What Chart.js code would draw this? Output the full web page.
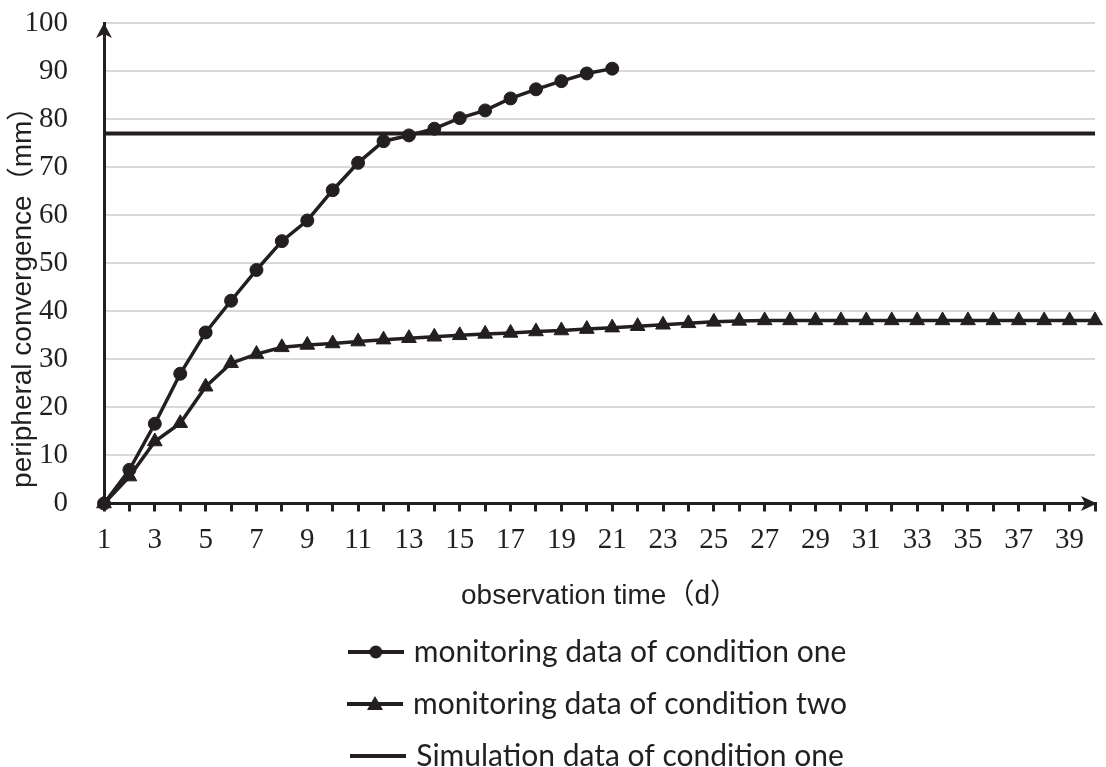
<!DOCTYPE html>
<html>
<head>
<meta charset="utf-8">
<script src="https://cdn.jsdelivr.net/npm/chart.js@4.4.1/dist/chart.umd.min.js"></script>
<style>
  html, body { margin: 0; padding: 0; background: #ffffff; overflow: hidden; }
  #wrap { position: relative; width: 1106px; height: 781px; }
</style>
</head>
<body>
<div id="wrap"><canvas id="chart"></canvas></div>
<script>
// Observation days (d)
const days = [1, 2, 3, 4, 5, 6, 7, 8, 9, 10, 11, 12, 13, 14, 15, 16, 17, 18, 19, 20,
              21, 22, 23, 24, 25, 26, 27, 28, 29, 30, 31, 32, 33, 34, 35, 36, 37, 38, 39, 40];
// Days that carry a printed label on the time axis
const labelledDays = [1, 3, 5, 7, 9, 11, 13, 15, 17, 19, 21, 23, 25, 27, 29, 31, 33, 35, 37, 39];

// Peripheral convergence (mm), monitoring of condition one (days 1-21)
const conditionOne = [0, 7.0, 16.6, 27.0, 35.6, 42.2, 48.6, 54.6, 58.9, 65.2,
                      70.9, 75.4, 76.6, 78.0, 80.2, 81.8, 84.3, 86.2, 87.9, 89.5, 90.5];
// Peripheral convergence (mm), monitoring of condition two (days 1-40)
const conditionTwo = [0, 5.6, 12.9, 16.7, 24.3, 29.2, 31.1, 32.5, 33.0, 33.3,
                      33.7, 34.1, 34.4, 34.7, 35.0, 35.3, 35.5, 35.8, 36.0, 36.3,
                      36.6, 36.9, 37.2, 37.5, 37.8, 38.0, 38.1, 38.1, 38.1, 38.1,
                      38.1, 38.1, 38.1, 38.1, 38.1, 38.1, 38.1, 38.1, 38.1, 38.1];
// Simulated convergence (mm), condition one
const simulationOne = [77, 77, 77, 77, 77, 77, 77, 77, 77, 77,
                       77, 77, 77, 77, 77, 77, 77, 77, 77, 77,
                       77, 77, 77, 77, 77, 77, 77, 77, 77, 77,
                       77, 77, 77, 77, 77, 77, 77, 77, 77, 77];

const seriesNames = [
  'monitoring data of condition one',
  'monitoring data of condition two',
  'Simulation data of condition one'
];

const INK = '#231f20';
const GRID = '#d9d9d9';
const SERIF = "'Times New Roman', 'Liberation Serif', serif";
const SANS = "Arial, 'Liberation Sans', 'Noto Sans CJK SC', sans-serif";
const LEGEND_FONT = "Lato, 'Open Sans', sans-serif";

// Legend swatch: a short line with the series marker in its middle
function makeSwatch(marker) {
  const c = document.createElement('canvas');
  c.width = 56; c.height = 20;
  const g = c.getContext('2d');
  g.strokeStyle = INK; g.fillStyle = INK; g.lineWidth = 4;
  g.beginPath(); g.moveTo(0, 10); g.lineTo(56, 10); g.stroke();
  if (marker === 'circle') {
    g.beginPath(); g.arc(28, 10, 6.5, 0, Math.PI * 2); g.fill();
  } else if (marker === 'triangle') {
    g.beginPath(); g.moveTo(28, 2); g.lineTo(36, 16); g.lineTo(20, 16); g.closePath(); g.fill();
  }
  return c;
}
const swatches = [makeSwatch('circle'), makeSwatch('triangle'), makeSwatch('none')];

// Arrowheads at the ends of both axes
const axisArrows = {
  id: 'axisArrows',
  afterDraw(chart) {
    const { ctx, chartArea: a } = chart;
    ctx.save();
    ctx.fillStyle = INK;
    // vertical axis, pointing up
    let x = a.left, y = a.top;
    ctx.beginPath();
    ctx.moveTo(x, y);
    ctx.lineTo(x + 8, y + 15);
    ctx.lineTo(x, y + 11);
    ctx.lineTo(x - 8, y + 15);
    ctx.closePath();
    ctx.fill();
    // horizontal axis, pointing right
    x = a.right + 2; y = a.bottom;
    ctx.fillRect(a.right - 4, y - 1.5, 6, 3);
    ctx.beginPath();
    ctx.moveTo(x, y);
    ctx.lineTo(x - 16, y - 7.5);
    ctx.lineTo(x - 12, y);
    ctx.lineTo(x - 16, y + 7.5);
    ctx.closePath();
    ctx.fill();
    ctx.restore();
  }
};

new Chart(document.getElementById('chart'), {
  type: 'line',
  data: {
    labels: days,
    datasets: [
      {
        label: seriesNames[0],
        data: conditionOne,
        borderColor: INK, backgroundColor: INK,
        borderWidth: 3.5, tension: 0,
        pointStyle: 'circle', pointRadius: 6.5, pointBorderWidth: 1,
        pointBackgroundColor: INK, pointBorderColor: INK,
        clip: false
      },
      {
        label: seriesNames[1],
        data: conditionTwo,
        borderColor: INK, backgroundColor: INK,
        borderWidth: 3.5, tension: 0,
        pointStyle: 'triangle', pointRadius: 8.5, pointBorderWidth: 1,
        pointBackgroundColor: INK, pointBorderColor: INK,
        clip: false
      },
      {
        label: seriesNames[2],
        data: simulationOne,
        borderColor: INK, backgroundColor: INK,
        borderWidth: 4, tension: 0,
        pointRadius: 0,
        clip: false
      }
    ]
  },
  options: {
    responsive: true,
    maintainAspectRatio: false,
    animation: false,
    devicePixelRatio: 1,
    layout: { padding: { top: 23, right: 11, bottom: 0, left: 0 } },
    plugins: {
      tooltip: { enabled: false },
      legend: {
        position: 'bottom',
        fullSize: false,
        labels: {
          usePointStyle: true,
          pointStyleWidth: 46,
          padding: 22,
          color: INK,
          font: { family: LEGEND_FONT, size: 30 },
          generateLabels: (chart) => chart.data.datasets.map((ds, i) => ({
            text: ds.label,
            pointStyle: swatches[i],
            fillStyle: INK,
            strokeStyle: INK,
            lineWidth: 0,
            hidden: false,
            datasetIndex: i,
            fontColor: INK
          }))
        }
      }
    },
    scales: {
      x: {
        type: 'category',
        offset: false,
        afterFit: (scale) => { scale.height = 111.5; },
        grid: {
          drawOnChartArea: false,
          drawTicks: true,
          tickLength: 8,
          tickWidth: 3,
          tickColor: INK
        },
        border: { display: true, color: INK, width: 3 },
        ticks: {
          autoSkip: false,
          maxRotation: 0,
          padding: 11,
          color: INK,
          font: { family: SERIF, size: 29 },
          callback: function (value, index) {
            const d = days[index];
            return labelledDays.includes(d) ? String(d) : '';
          }
        },
        title: {
          display: true,
          text: 'observation time（d）',
          color: INK,
          font: { family: SANS, size: 28 },
          padding: { top: 0, bottom: 1.5 }
        }
      },
      y: {
        min: 0,
        max: 100,
        afterFit: (scale) => { scale.width = 104; },
        grid: {
          color: GRID,
          lineWidth: 2,
          drawTicks: true,
          tickLength: 33,
          tickColor: 'rgba(0,0,0,0)'
        },
        border: { display: true, color: INK, width: 3 },
        ticks: {
          stepSize: 10,
          padding: 3,
          color: INK,
          font: { family: SERIF, size: 29 }
        },
        title: {
          display: true,
          align: 'start',
          text: '  peripheral convergence（mm）',
          color: INK,
          font: { family: SANS, size: 28 },
          padding: { top: 6, bottom: 0 }
        }
      }
    }
  },
  plugins: [axisArrows]
});
</script>
</body>
</html>
